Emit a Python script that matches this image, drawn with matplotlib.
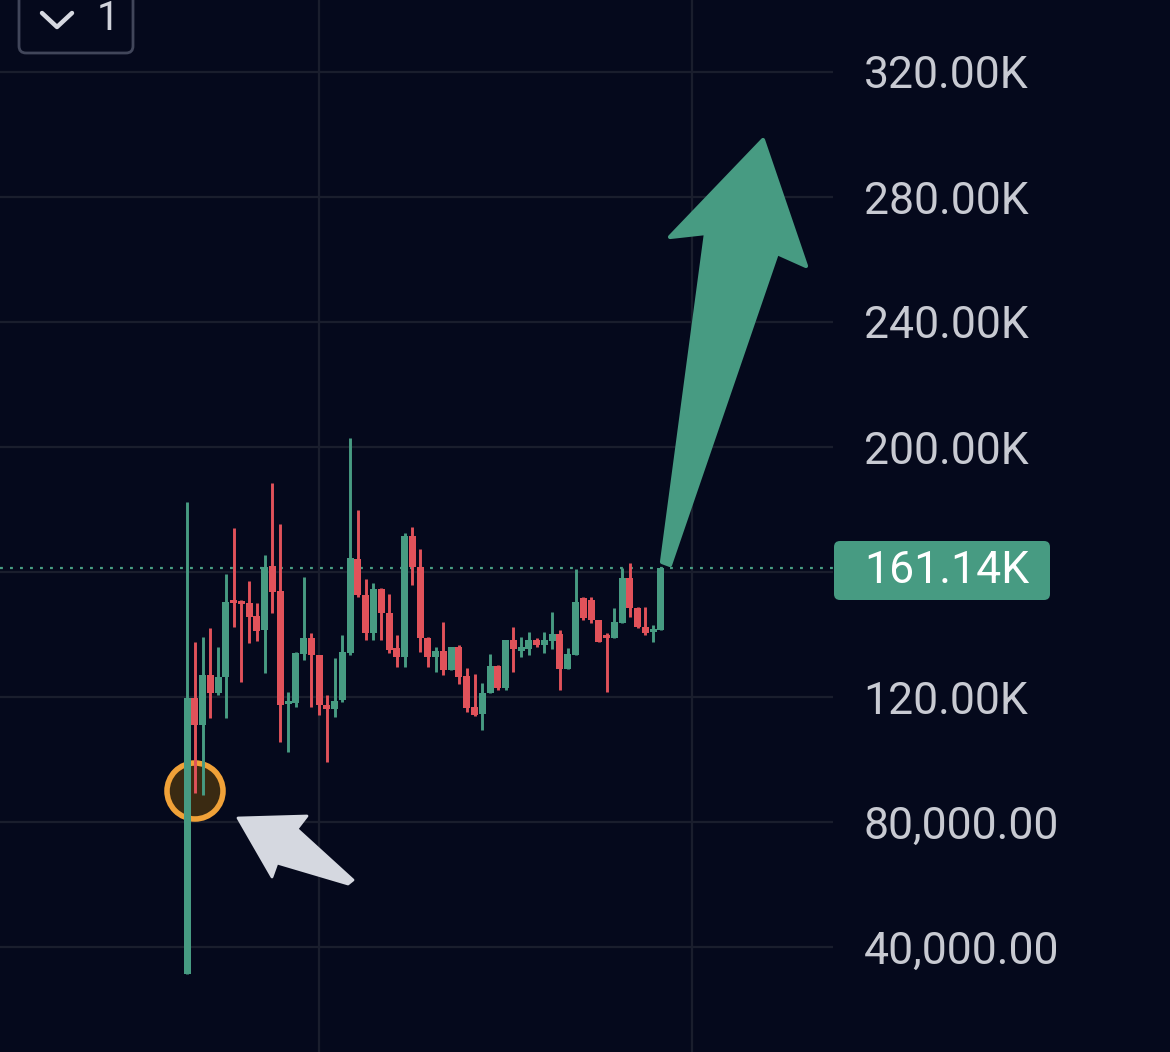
import matplotlib
matplotlib.use("Agg")
import matplotlib.pyplot as plt
import numpy as np
from matplotlib.patches import Circle, FancyBboxPatch, Polygon
from matplotlib.transforms import Affine2D

# candle values, in thousands
opens = [31.4, 119.7, 111.0, 127.0, 121.3, 126.4, 151.0, 150.7, 150.1, 145.9, 141.4, 161.9, 153.9,
         117.8, 118.1, 133.8, 138.9, 133.4, 117.4, 116.2, 119.0, 134.1, 164.2, 152.6, 140.5, 154.6,
         146.9, 135.7, 132.8, 171.5, 161.6, 138.9, 132.8, 134.7, 128.6, 136.0, 126.7, 116.8, 114.6,
         121.3, 129.9, 122.9, 138.2, 134.7, 135.4, 138.2, 136.6, 137.9, 140.2, 129.0, 133.4, 151.7,
         151.0, 144.6, 139.8, 138.9, 143.7, 158.1, 148.5, 142.4, 140.8, 141.4]
highs = [182.4, 137.6, 139.2, 142.1, 136.0, 159.4, 174.1, 151.0, 157.1, 150.1, 165.4, 188.5, 175.4,
         121.6, 134.4, 158.4, 140.5, 133.4, 120.6, 132.5, 139.8, 202.9, 179.8, 157.8, 156.5, 154.9,
         153.0, 139.8, 172.5, 174.4, 167.4, 139.2, 136.0, 144.0, 136.0, 136.6, 129.3, 127.4, 124.5,
         133.8, 130.2, 138.2, 142.4, 139.2, 140.8, 138.9, 140.8, 147.2, 141.4, 135.7, 161.0, 152.0,
         152.0, 144.6, 140.5, 148.5, 161.3, 162.9, 148.8, 148.8, 143.0, 161.14]
lows = [31.4, 89.3, 88.6, 113.3, 120.6, 113.3, 142.4, 124.8, 137.3, 137.9, 127.7, 146.9, 105.6,
        102.4, 116.8, 131.8, 116.8, 114.2, 99.2, 113.6, 118.4, 133.4, 152.0, 138.2, 138.2, 138.2,
        134.1, 129.6, 129.6, 155.8, 134.4, 129.6, 128.0, 127.0, 128.6, 124.2, 115.2, 113.9, 109.4,
        121.3, 122.2, 122.2, 128.0, 132.8, 133.4, 136.0, 134.1, 135.4, 122.2, 129.0, 133.4, 144.6,
        143.7, 137.6, 121.6, 138.9, 143.7, 145.6, 142.1, 139.8, 137.6, 141.4]
closes = [119.7, 111.0, 127.0, 121.3, 126.4, 150.4, 150.1, 149.8, 145.6, 141.1, 161.6, 153.6, 117.4,
          118.4, 134.1, 138.9, 133.4, 117.4, 116.2, 118.7, 134.4, 164.5, 152.6, 140.5, 154.6, 146.9,
          135.0, 132.8, 171.5, 161.6, 138.9, 132.8, 134.7, 128.6, 136.0, 126.4, 116.5, 114.2, 121.3,
          129.9, 122.9, 138.2, 135.4, 136.0, 138.2, 136.6, 138.2, 140.2, 129.0, 133.8, 150.4, 145.3,
          144.6, 137.6, 138.9, 144.0, 158.1, 148.5, 142.4, 140.5, 141.8, 161.14]

price_levels = [40, 80, 120, 160, 200, 240, 280, 320]
price_labels = ["40,000.00", "80,000.00", "120.00K", "", "200.00K", "240.00K", "280.00K", "320.00K"]
time_grid = [17, 65]
last_price = 161.14
last_label = "161.14K"

BG = "#05091c"
GRID = "#1a1e2d"
GREEN = "#479b82"
RED = "#e1525a"
TEXT = "#c8cad2"
FONT = ["Roboto", "DejaVu Sans"]
FS = 32

fig = plt.figure(figsize=(11.70, 10.52), dpi=100, facecolor=BG)
ax = fig.add_axes([0, 0, 833 / 1170, 1])
ax.set_facecolor(BG)

# reference pixels (top-left origin) -> display
px = Affine2D().scale(1 / 100, -1 / 100).translate(0, 10.52) + fig.dpi_scale_trans

o = np.array(opens)
c = np.array(closes)
x = np.arange(len(o))
up = c >= o
colors = np.where(up, GREEN, RED)

for lvl in price_levels:
    ax.axhline(lvl, color=GRID, lw=1.6, zorder=0)
for t in time_grid:
    ax.axvline(t, color=GRID, lw=1.6, zorder=0)

ax.add_patch(Circle((195, 791), 28, transform=px, facecolor="#3a2a12", edgecolor="#f0a138",
                    lw=4, zorder=1, clip_on=False))

ax.vlines(x, lows, highs, colors=colors, lw=2.1, zorder=3)
body_lo = np.minimum(o, c)
body_h = np.maximum(np.abs(c - o), 0.8)
ax.bar(x, body_h, bottom=body_lo, width=0.9, color=colors, linewidth=0, zorder=3)

ax.axhline(last_price, color=GREEN, lw=1.6, linestyle=(0, (1.3, 3.2)), zorder=2)

ax.set_xlim(-24.07, 83.14)
ax.set_ylim(6.4, 343.04)
ax.set_xticks([])
ax.yaxis.tick_right()
ax.set_yticks(price_levels)
ax.set_yticklabels(price_labels)
ax.tick_params(axis="y", length=0, pad=22, labelsize=FS, labelcolor=TEXT)
for lab in ax.get_yticklabels():
    lab.set_fontfamily(FONT)
for s in ax.spines.values():
    s.set_visible(False)

# last price tag
ax.add_patch(FancyBboxPatch((834, 541), 216, 59, boxstyle="round,pad=0,rounding_size=6",
                            transform=px, facecolor=GREEN, edgecolor="none", clip_on=False, zorder=5))
ax.text(864, 571, last_label, transform=px, color="white", fontsize=FS, family=FONT,
        ha="left", va="center", zorder=6, clip_on=False)

# big green arrow
ax.add_patch(Polygon([(763, 140), (806, 266), (777, 253), (670, 565), (662, 562), (706, 233), (670, 237)],
                     closed=True, transform=px, facecolor=GREEN, edgecolor=GREEN, lw=3,
                     joinstyle="round", zorder=7, clip_on=False))

# white arrow
ax.add_patch(Polygon([(238, 818), (307, 816), (297, 829), (353, 880), (348, 884), (277, 863), (272, 877)],
                     closed=True, transform=px, facecolor="#d5d8e0", edgecolor="#d5d8e0", lw=2,
                     joinstyle="round", zorder=7, clip_on=False))

# interval box, top left
ax.add_patch(FancyBboxPatch((19, -20), 114, 73, boxstyle="round,pad=0,rounding_size=7",
                            transform=px, facecolor=BG, edgecolor="#41465a", lw=2, clip_on=False, zorder=8))
ax.plot([42, 57, 72], [13, 27, 13], transform=px, color="#d6d8e0", lw=3.2,
        solid_capstyle="round", solid_joinstyle="round", zorder=9, clip_on=False)
ax.text(97, 18, "1", transform=px, color="#d0d2da", fontsize=29, family=FONT,
        ha="left", va="center", zorder=9, clip_on=False)

fig.savefig("out.png", dpi=100, facecolor=BG)
